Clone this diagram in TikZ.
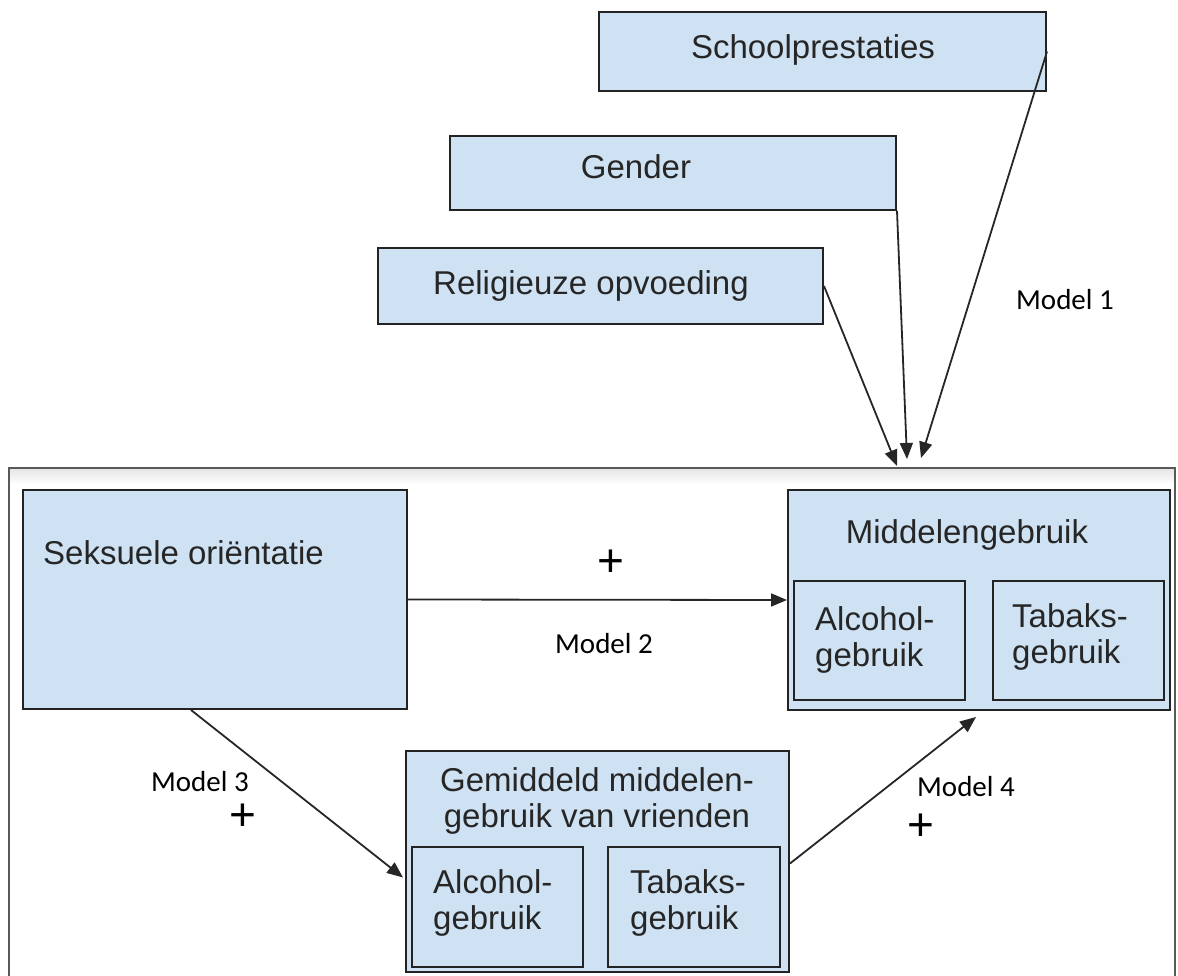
\documentclass[tikz,border=0pt]{standalone}
\usepackage{fontspec}
\setmainfont{Liberation Sans}
\newfontfamily\calib{Carlito}
\usetikzlibrary{arrows.meta}
\definecolor{boxblue}{RGB}{207,226,243}
\definecolor{edgec}{RGB}{35,35,35}
\begin{document}
\begin{tikzpicture}[x=1pt,y=-1pt,
 box/.style={draw=edgec, line width=2pt, fill=boxblue, inner sep=0pt, anchor=north west},
 txt/.style={font=\fontsize{33}{36}\selectfont, text=black!85, inner sep=0pt},
 lbl/.style={font=\calib\fontsize{29}{34}\selectfont, inner sep=0pt},
 plus/.style={font=\fontsize{46}{46}\selectfont, inner sep=0pt},
 arr/.style={line width=1.8pt, draw=black!85, -{Triangle[length=16pt,width=13pt]}}]
\useasboundingbox (0,0) rectangle (1178,976);
% outer frame
\fill[top color=black!10, bottom color=white] (10,469) rectangle (1174,484);
\draw[draw=black!65, line width=1.8pt] (9,976) -- (9,468) -- (1175,468) -- (1175,976);
% boxes
\node[box, minimum width=447pt, minimum height=79pt] (school) at (598,11) {};
\node[box, minimum width=446pt, minimum height=74pt] (gen) at (449,135) {};
\node[box, minimum width=445pt, minimum height=76pt] (rel) at (377,247) {};
\node[box, minimum width=384pt, minimum height=219pt] (seks) at (22,489) {};
\node[box, minimum width=382pt, minimum height=220pt] (mid) at (787,489) {};
\node[box, minimum width=171pt, minimum height=119pt] (midA) at (793,580) {};
\node[box, minimum width=171pt, minimum height=119pt] (midB) at (992,580) {};
\node[box, minimum width=383pt, minimum height=221pt] (gem) at (405,750) {};
\node[box, minimum width=171pt, minimum height=120pt] (gemA) at (411,846) {};
\node[box, minimum width=172pt, minimum height=120pt] (gemB) at (607,846) {};
% texts
\node[txt] (schoolT) at (813,50) {Schoolprestaties};
\node[txt] (genT) at (636,167) {Gender};
\node[txt] (relT) at (591,286) {Religieuze opvoeding};
\node[txt, anchor=west] (seksT) at (43,553) {Seksuele oriëntatie};
\node[txt] (midT) at (967,535) {Middelengebruik};
\node[txt, anchor=west, align=left] (midAT) at (815,640) {Alcohol-\\gebruik};
\node[txt, anchor=west, align=left] (midBT) at (1012,637) {Tabaks-\\gebruik};
\node[txt, align=center] (gemT) at (597,801) {Gemiddeld middelen-\\gebruik van vrienden};
\node[txt, anchor=west, align=left] (gemAT) at (433,903) {Alcohol-\\gebruik};
\node[txt, anchor=west, align=left] (gemBT) at (630,903) {Tabaks-\\gebruik};
% labels
\node[lbl] (m1) at (1065,300) {Model 1};
\node[lbl] (m2) at (604,644) {Model 2};
\node[lbl] (m3) at (200,782) {Model 3};
\node[lbl] (m4) at (966,787) {Model 4};
\node[plus] (p2) at (611,563) {+};
\node[plus] (p3) at (243,817) {+};
\node[plus] (p4) at (921,827) {+};
% arrows
\coordinate (t1) at (897,466);
\coordinate (t2) at (907,459);
\coordinate (t3) at (921,458);
\draw[arr] (rel.east) -- (t1);
\draw[arr] (gen.south east) -- (t2);
\draw[arr] (school.east) -- (t3);
\draw[arr] (seks.east) -- (mid.west);
\draw[arr] ([xshift=-24pt]seks.south) -- ([xshift=-2pt,yshift=-16pt]gem.west);
\draw[arr] ([yshift=-2pt]gem.east) -- ([xshift=-3pt,yshift=-6pt]mid.south);
\end{tikzpicture}
\end{document}
